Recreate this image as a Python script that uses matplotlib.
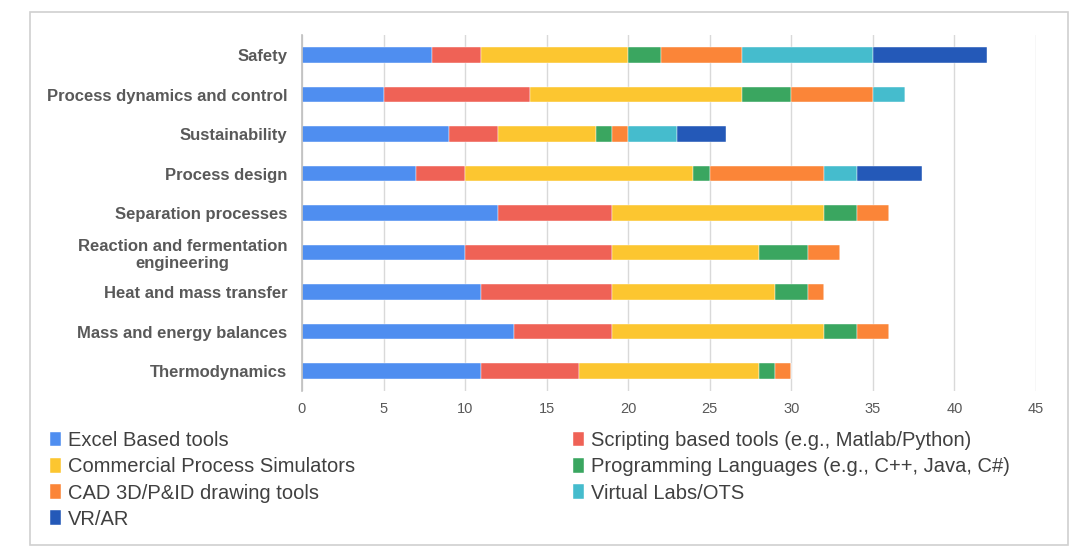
import matplotlib
matplotlib.use("Agg")
import matplotlib.pyplot as plt
from matplotlib.patches import Rectangle
import numpy as np

plt.rcParams['font.family'] = ['Liberation Sans', 'DejaVu Sans']

# bottom to top
topics = ["Thermodynamics", "Mass and energy balances", "Heat and mass transfer",
          "Reaction and fermentation\nengineering", "Separation processes",
          "Process design", "Sustainability", "Process dynamics and control", "Safety"]

tools = ["Excel Based tools", "Scripting based tools (e.g., Matlab/Python)",
         "Commercial Process Simulators", "Programming Languages (e.g., C++, Java, C#)",
         "CAD 3D/P&ID drawing tools", "Virtual Labs/OTS", "VR/AR"]

excel       = [11, 13, 11, 10, 12, 7, 9, 5, 8]
scripting   = [6, 6, 8, 9, 7, 3, 3, 9, 3]
commercial  = [11, 13, 10, 9, 13, 14, 6, 13, 9]
programming = [1, 2, 2, 3, 2, 1, 1, 3, 2]
cad         = [1, 2, 1, 2, 2, 7, 1, 5, 5]
virtual     = [0, 0, 0, 0, 0, 2, 3, 2, 8]
vrar        = [0, 0, 0, 0, 0, 4, 3, 0, 7]

series = [excel, scripting, commercial, programming, cad, virtual, vrar]
colors = ["#4f8ef0", "#ef6256", "#fcc630", "#3aa660", "#fb8538", "#45bccd", "#2459b8"]

fig = plt.figure(figsize=(10.8, 5.58), dpi=100)
ax = fig.add_axes([0.2796, 0.2997, 0.6796, 0.6371])

y = np.arange(len(topics))
left = np.zeros(len(topics))
handles = []
for vals, col, name in zip(series, colors, tools):
    vals = np.array(vals, dtype=float)
    b = ax.barh(y, vals, left=left, height=0.4, color=col, label=name,
                edgecolor="white", linewidth=0.3)
    handles.append(b)
    left += vals

ax.set_ylim(-0.5, len(topics) - 0.5)
ax.set_xlim(0, 45)
ax.set_xticks(np.arange(0, 46, 5))
ax.set_yticks(y)
ax.set_yticklabels(topics, fontsize=12, fontweight="bold", color="#595959",
                   multialignment="center")
ax.tick_params(axis="both", length=0)
ax.tick_params(axis="x", labelsize=10.5, labelcolor="#595959", pad=8)
ax.tick_params(axis="y", pad=10.5)
ax.xaxis.grid(True, color="#d9d9d9", linewidth=1)
ax.set_axisbelow(True)
for s in ["top", "right", "bottom"]:
    ax.spines[s].set_visible(False)
ax.spines["left"].set_color("#bfbfbf")
ax.spines["left"].set_linewidth(1.2)

order = [0, 2, 4, 6, 1, 3, 5]
leg = fig.legend([handles[i] for i in order], [tools[i] for i in order],
                 ncol=2, loc="upper left", bbox_to_anchor=(0.0297, 0.26),
                 frameon=False, fontsize=14.5, handlelength=0.55, handleheight=0.75,
                 handletextpad=0.35, labelspacing=0.36, columnspacing=10.8,
                 labelcolor="#404040")

fig.patches.append(Rectangle((30 / 1080, 1 - 545 / 558), 1038 / 1080, 533 / 558,
                             transform=fig.transFigure, fill=False,
                             edgecolor="#d0d0d0", linewidth=1.2))

fig.savefig("out.png", dpi=100)
